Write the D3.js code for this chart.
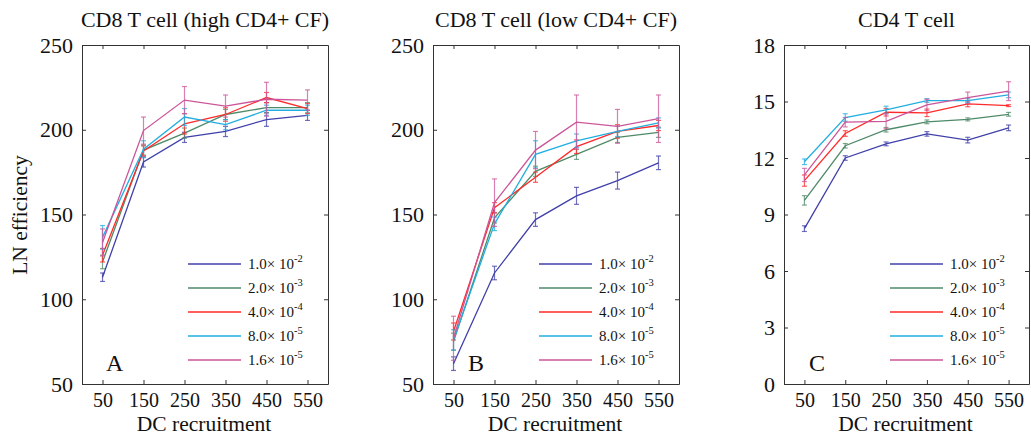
<html lang="en">

<head>
  <meta http-equiv="Content-Type" content="text/html; charset=utf-8" />
  <script src="https://d3js.org/d3.v7.min.js"></script>
  <style>
    body { margin: 0; background: #fff; }
    text { font-family: "Liberation Serif", "Times New Roman", serif; fill: #111; }
  </style>
</head>

<body>
  <div id="divId"></div>

  <script>
    // x values shared by every panel
    const dcRecruitment = [50, 150, 250, 350, 450, 550];

    // legend entries: mantissa and exponent
    const seriesMantissa = ["1.0", "2.0", "4.0", "8.0", "1.6"];
    const seriesExponent = ["-2", "-3", "-4", "-5", "-5"];
    const seriesColors = ["#4040aa", "#4f8a68", "#ff2a2a", "#22aee0", "#cc5599"];

    // panel A : CD8 T cell (high CD4+ CF)
    const cd8HighMean = [
      [113, 181, 195.5, 199, 206, 208.5],
      [122, 188, 198, 209, 213, 213],
      [126, 187.5, 203.5, 209, 219, 212.5],
      [136.5, 188.5, 207.5, 203, 211.5, 211.5],
      [133.5, 199.5, 217.5, 214, 218, 217.5],
    ];
    const cd8HighErr = [
      [2.5, 3, 3, 3, 4, 3],
      [4, 3, 3, 3, 3, 3],
      [4, 3, 6, 4, 3, 3],
      [7, 5, 5, 3, 3, 3],
      [8, 8, 8, 6.5, 10, 6],
    ];

    // panel B : CD8 T cell (low CD4+ CF)
    const cd8LowMean = [
      [62, 115.5, 147, 161, 170, 180.5],
      [75, 148, 175.5, 185.5, 195.5, 198.5],
      [81, 154, 172, 190, 199, 202.5],
      [76, 144.5, 185.5, 193.5, 199, 204],
      [77, 157, 188, 204.5, 202, 206.5],
    ];
    const cd8LowErr = [
      [4, 4, 4, 5, 5, 4],
      [5, 3, 3, 3, 3, 3],
      [5, 3, 3, 4, 4, 3],
      [6, 4, 8, 4, 3, 3],
      [13, 14, 11, 16, 10, 14],
    ];

    // panel C : CD4 T cell
    const cd4Mean = [
      [8.25, 12.0, 12.75, 13.28, 12.95, 13.6],
      [9.75, 12.65, 13.5, 13.92, 14.05, 14.32],
      [10.8, 13.3, 14.43, 14.4, 14.87, 14.78],
      [11.8, 14.15, 14.55, 15.05, 15.05, 15.35],
      [11.1, 13.9, 13.95, 14.82, 15.2, 15.55],
    ];
    const cd4Err = [
      [0.15, 0.12, 0.1, 0.12, 0.15, 0.15],
      [0.25, 0.12, 0.12, 0.1, 0.08, 0.1],
      [0.3, 0.15, 0.2, 0.2, 0.15, 0.05],
      [0.15, 0.2, 0.2, 0.1, 0.1, 0.15],
      [0.35, 0.25, 0.4, 0.3, 0.3, 0.5],
    ];

    const xTicks = [50, 150, 250, 350, 450, 550];
    const cd8Ticks = [50, 100, 150, 200, 250];
    const cd4Ticks = [0, 3, 6, 9, 12, 15, 18];

    const panels = [
      { title: "CD8 T cell (high CD4+ CF)", letter: "A", mean: cd8HighMean, err: cd8HighErr, yDomain: [50, 250], yTicks: cd8Ticks, left: 82, right: 328, letterX: 24 },
      { title: "CD8 T cell (low CD4+ CF)", letter: "B", mean: cd8LowMean, err: cd8LowErr, yDomain: [50, 250], yTicks: cd8Ticks, left: 433, right: 679, letterX: 35 },
      { title: "CD4 T cell", letter: "C", mean: cd4Mean, err: cd4Err, yDomain: [0, 18], yTicks: cd4Ticks, left: 784, right: 1029, letterX: 25 },
    ];

    const svg_width = 1031;
    const svg_height = 437;
    const plotTop = 45;
    const plotBottom = 384;
    const tickLen = 4;
    const capHalf = 2.5;

    const svg = d3.select("#divId")
      .append("svg")
      .attr("width", svg_width)
      .attr("height", svg_height);

    svg.append("rect")
      .attr("width", svg_width)
      .attr("height", svg_height)
      .attr("fill", "#fff");

    panels.forEach(panel => {
      const x = d3.scaleLinear().domain([0, 600]).range([panel.left, panel.right]);
      const y = d3.scaleLinear().domain(panel.yDomain).range([plotBottom, plotTop]);
      const g = svg.append("g");

      ////////////////////////
      // axes : box with ticks pointing inward on all four sides
      g.append("g")
        .attr("transform", `translate(0,${plotBottom})`)
        .call(d3.axisBottom(x).tickValues(xTicks).tickSizeInner(-tickLen).tickSizeOuter(0).tickPadding(9))
        .call(a => a.selectAll("text").attr("font-size", 20).attr("fill", "#111"));
      g.append("g")
        .attr("transform", `translate(0,${plotTop})`)
        .call(d3.axisTop(x).tickValues(xTicks).tickSizeInner(-tickLen).tickSizeOuter(0).tickFormat(""));
      g.append("g")
        .attr("transform", `translate(${panel.left},0)`)
        .call(d3.axisLeft(y).tickValues(panel.yTicks).tickSizeInner(-tickLen).tickSizeOuter(0).tickPadding(9))
        .call(a => a.selectAll("text").attr("font-size", 22).attr("fill", "#111"));
      g.append("g")
        .attr("transform", `translate(${panel.right},0)`)
        .call(d3.axisRight(y).tickValues(panel.yTicks).tickSizeInner(-tickLen).tickSizeOuter(0).tickFormat(""));
      g.selectAll(".domain").attr("stroke", "#333");
      g.selectAll(".tick line").attr("stroke", "#333");

      /////////////////////////
      // title
      g.append("text")
        .attr("x", (panel.left + panel.right) / 2)
        .attr("y", 27)
        .attr("text-anchor", "middle")
        .attr("font-size", 22)
        .text(panel.title);

      // x label
      g.append("text")
        .attr("x", (panel.left + panel.right) / 2 - 1)
        .attr("y", 431)
        .attr("text-anchor", "middle")
        .attr("font-size", 21.5)
        .text("DC recruitment");

      // panel letter
      g.append("text")
        .attr("x", panel.left + panel.letterX)
        .attr("y", 371)
        .attr("font-size", 24)
        .text(panel.letter);

      /////////////////////////
      // lines and error bars
      const line = d3.line()
        .x((d, i) => x(dcRecruitment[i]))
        .y(d => y(d));

      panel.mean.forEach((series, s) => {
        const color = seriesColors[s];
        const bars = g.append("g").attr("stroke", color).attr("stroke-opacity", 0.75).attr("stroke-width", 1.2);
        series.forEach((v, i) => {
          const e = panel.err[s][i];
          const cx = x(dcRecruitment[i]);
          bars.append("line").attr("x1", cx).attr("x2", cx).attr("y1", y(v - e)).attr("y2", y(v + e));
          bars.append("line").attr("x1", cx - capHalf).attr("x2", cx + capHalf).attr("y1", y(v - e)).attr("y2", y(v - e));
          bars.append("line").attr("x1", cx - capHalf).attr("x2", cx + capHalf).attr("y1", y(v + e)).attr("y2", y(v + e));
        });
        g.append("path")
          .attr("d", line(series))
          .attr("fill", "none")
          .attr("stroke", color)
          .attr("stroke-width", 1.3);
      });

      /////////////////////////
      // legend
      const legendX = panel.left + 106;
      seriesMantissa.forEach((m, s) => {
        const ly = 264 + s * 24;
        g.append("line")
          .attr("x1", legendX).attr("x2", legendX + 53)
          .attr("y1", ly).attr("y2", ly)
          .attr("stroke", seriesColors[s])
          .attr("stroke-width", 1.3);
        const t = g.append("text")
          .attr("x", legendX + 60)
          .attr("y", ly + 5)
          .attr("font-size", 15);
        t.append("tspan").text(m + "\u00d7 10");
        t.append("tspan").attr("dy", -7).attr("font-size", 10.5).text(seriesExponent[s]);
      });
    });

    // shared y label
    svg.append("text")
      .attr("transform", "translate(27,215) rotate(-90)")
      .attr("text-anchor", "middle")
      .attr("font-size", 21.5)
      .text("LN efficiency");
  </script>
</body>

</html>
